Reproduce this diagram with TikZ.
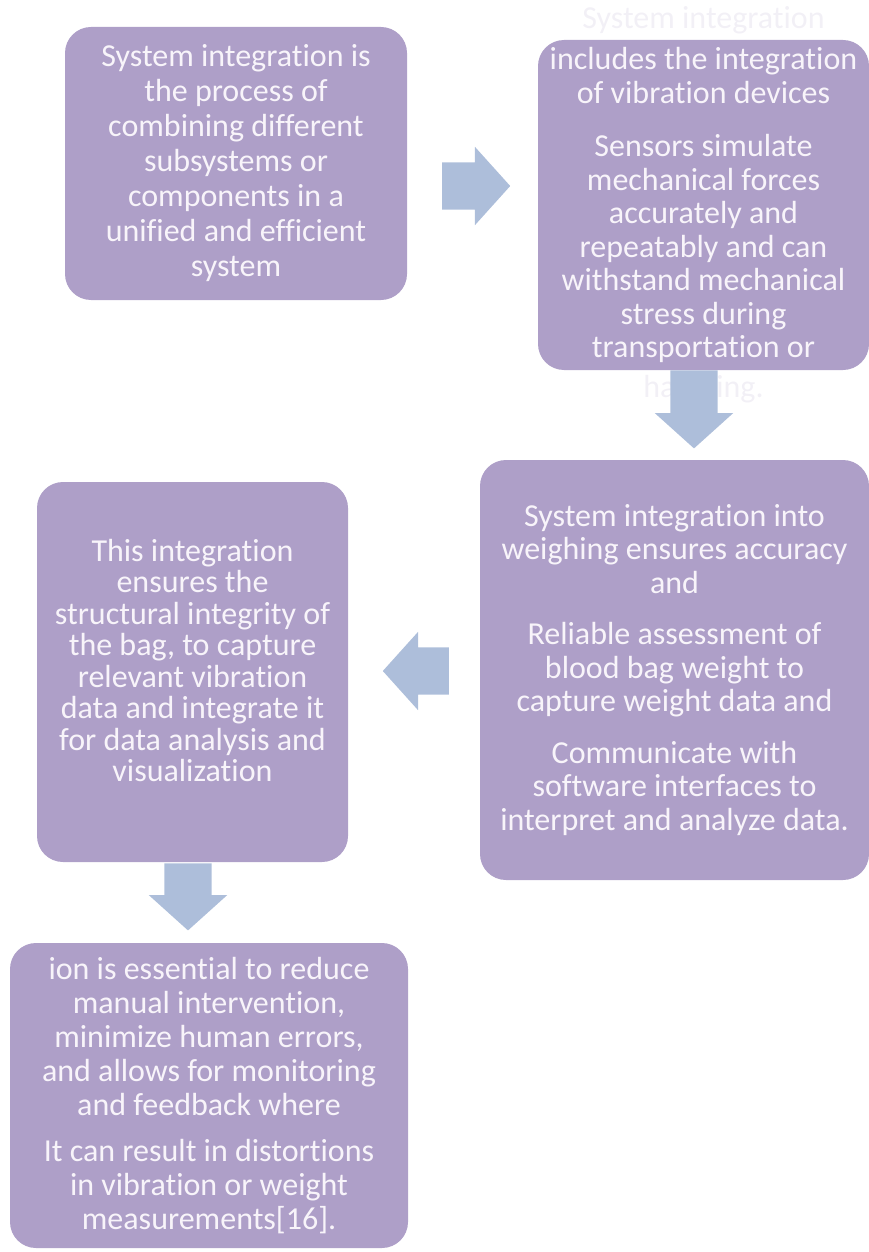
\documentclass[tikz,border=0pt]{standalone}
\usepackage{fontspec}
\setmainfont{Carlito}[Ligatures=NoCommon]
\usetikzlibrary{shapes.arrows}

\definecolor{boxfill}{HTML}{AE9FC8}
\definecolor{arrowfill}{HTML}{ADBEDA}
\definecolor{boxtext}{HTML}{F8F4FA}
\definecolor{spilltext}{HTML}{F2F0F6}

\tikzset{
  stagebox/.style={fill=boxfill, rounded corners=26pt, text=boxtext, align=center,
    inner sep=0pt, font=\fontsize{32}{33.5}\selectfont},
  spill/.style={text=spilltext, align=center, inner sep=0pt, font=\fontsize{32}{33.5}\selectfont},
  flowarrow/.style={single arrow, fill=arrowfill, inner xsep=0pt, inner ysep=23.5pt,
    single arrow head extend=15.5pt, single arrow tip angle=96, anchor=tail},
}

\begin{document}
\begin{tikzpicture}[x=1pt,y=-1pt]
            \useasboundingbox (0,0) rectangle (869,1252);
            % boxes
            \node[stagebox, minimum width=342pt, minimum height=273pt,
                  font=\fontsize{32}{35}\selectfont] (sysint) at (236,163.5)
                {System integration is\\ the process of\\ combining different\\ subsystems or\\
                 components in a\\ unified and efficient\\ system};
            \node[spill] (vibtop) at (703.5,20) {System integration};
            \node[spill] (vibbot) at (703.5,389) {handling.};
            \node[stagebox, minimum width=331pt, minimum height=330pt] (vibdev) at (703.5,205)
                {includes the integration\\ of vibration devices\\[20pt] Sensors simulate\\
                 mechanical forces\\ accurately and\\ repeatably and can\\ withstand mechanical\\
                 stress during\\ transportation or};
            \node[stagebox, minimum width=389pt, minimum height=420pt] (weigh) at (674.5,670)
                {System integration into\\ weighing ensures accuracy\\ and\\[18pt]
                 Reliable assessment of\\ blood bag weight to\\ capture weight data and\\[18pt]
                 Communicate with\\ software interfaces to\\ interpret and analyze data.};
            \node[stagebox, minimum width=311pt, minimum height=380pt,
                  font=\fontsize{32}{31.5}\selectfont] (integrity) at (192.5,672)
                {This integration\\ ensures the\\ structural integrity of\\ the bag, to capture\\
                 relevant vibration\\ data and integrate it\\ for data analysis and\\ visualization\\[-8pt]};
            \node[stagebox, minimum width=398pt, minimum height=305pt,
                  font=\fontsize{32}{34}\selectfont] (essential) at (209,1095.5)
                {ion is essential to reduce\\ manual intervention,\\ minimize human errors,\\
                 and allows for monitoring\\ and feedback where\\[12pt] It can result in distortions\\
                 in vibration or weight\\ measurements[16].};
            % arrows
            \node[flowarrow, minimum height=68pt] (toVib) at (442,186) {};
            \node[flowarrow, minimum height=78pt, rotate=-90] (toWeigh) at ([xshift=-9.5pt]vibdev.south) {};
            \node[flowarrow, minimum height=66pt, rotate=180] (toIntegrity) at (449,671) {};
            \node[flowarrow, minimum height=67pt, rotate=-90] (toEssential) at ([xshift=-4.5pt,yshift=-1pt]integrity.south) {};
        \end{tikzpicture}
\end{document}
